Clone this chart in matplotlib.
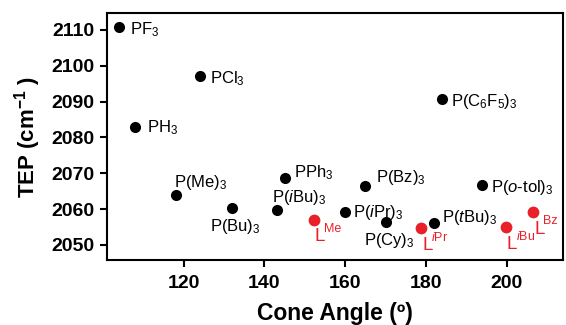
import numpy as np
import matplotlib.pyplot as plt

plt.rcParams['font.family'] = 'Liberation Sans'
plt.rcParams['mathtext.fontset'] = 'custom'
plt.rcParams['mathtext.rm'] = 'Liberation Sans'
plt.rcParams['mathtext.it'] = 'Liberation Sans:italic'
plt.rcParams['mathtext.bf'] = 'Liberation Sans:bold'

# phosphines (black)
phos_names = [r'PF$_3$', r'PCl$_3$', r'PH$_3$', r'P(C$_6$F$_5$)$_3$', r'P(Me)$_3$',
              r'P(Bu)$_3$', r'PPh$_3$', r'P($\it{i}$Bu)$_3$', r'P($\it{i}$Pr)$_3$',
              r'P(Bz)$_3$', r'P(Cy)$_3$', r'P($\it{t}$Bu)$_3$', r'P($\it{o}$-tol)$_3$']
phos_cone = [104, 124, 108, 184, 118, 132, 145, 143, 160, 165, 170, 182, 194]
phos_tep = [2110.8, 2097, 2083, 2090.7, 2064, 2060.2, 2068.8, 2059.7, 2059.1,
            2066.4, 2056.4, 2056.1, 2066.7]

# L ligands (red)
lig_sup = ['Me', r'$\it{i}$Pr', r'$\it{i}$Bu', 'Bz']
lig_cone = [152.2, 178.8, 199.8, 206.6]
lig_tep = [2057, 2054.7, 2054.9, 2059.1]

# label offsets in pixels (dx, dy up), baseline anchored
phos_off = [(11, -7), (10, -7), (12, -6), (9, -7), (-2, 8), (-22, -23), (9, 0),
            (-5, 8), (8, -5), (11, 4), (-22, -23), (8, 1), (9, -7)]

red = '#e8202a'

fig = plt.figure(figsize=(5.66, 3.25), dpi=100)
ax = fig.add_axes([0.189, 0.2, 0.806, 0.76])

ax.scatter(phos_cone, phos_tep, s=64, color='black', zorder=3, linewidths=0)
ax.scatter(lig_cone, lig_tep, s=72, color=red, zorder=3, linewidths=0)

for name, x, y, (dx, dy) in zip(phos_names, phos_cone, phos_tep, phos_off):
    ax.annotate(name, (x, y), xytext=(dx, dy), textcoords='offset pixels',
                ha='left', va='baseline', fontsize=12)

for sup, x, y in zip(lig_sup, lig_cone, lig_tep):
    ax.annotate('L', (x, y), xytext=(1, -17), textcoords='offset pixels',
                ha='left', va='center', fontsize=13.5, color=red)
    ax.annotate(sup, (x, y), xytext=(10, -9), textcoords='offset pixels',
                ha='left', va='center', fontsize=9, color=red)

ax.set_xlim(101, 214)
ax.set_ylim(2045.8, 2114.7)
ax.set_xticks([120, 140, 160, 180, 200])
ax.set_yticks(np.arange(2050, 2111, 10))

for sp in ax.spines.values():
    sp.set_linewidth(1.5)
ax.tick_params(width=1.5, length=5, labelsize=14)
ax.tick_params(axis='y', pad=4)
ax.tick_params(axis='x', pad=6)
for lab in ax.get_xticklabels() + ax.get_yticklabels():
    lab.set_fontweight('bold')

ax.set_xlabel('Cone Angle (º)', fontsize=16.5, fontweight='bold', labelpad=7)
ax.set_ylabel(r'TEP (cm$^{\mathbf{-1}}$ )', fontsize=16, fontweight='bold', labelpad=6)

fig.savefig('out.png', dpi=100)
